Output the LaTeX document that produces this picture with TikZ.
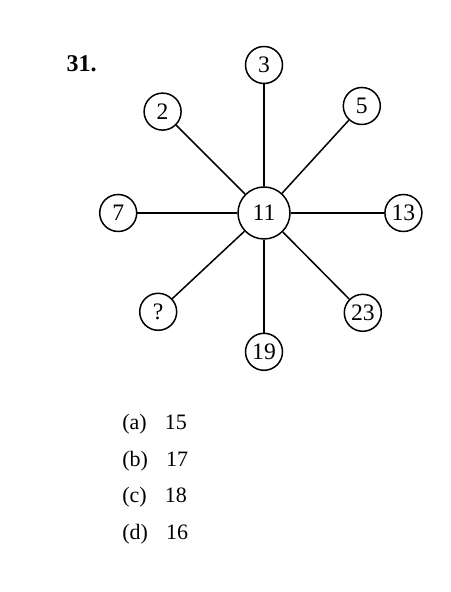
\documentclass[tikz,border=0pt]{standalone}
\usepackage{fontspec}
\setmainfont{Liberation Serif}
\usetikzlibrary{positioning}

\begin{document}
\begin{tikzpicture}[on grid,
  num/.style={circle,draw,line width=0.75pt,inner sep=0pt,minimum size=18.5pt,font=\fontsize{11.8}{13}\selectfont},
  hub/.style={num,minimum size=26pt},
  spoke/.style={-,line width=0.75pt},
  ans/.style={anchor=base west,inner sep=0pt,font=\fontsize{11}{13}\selectfont}]
  \useasboundingbox (-132pt,-189.5pt) rectangle (93pt,106.5pt);

  \node[hub]  (c11) at (0,0)                          {11};
  \node[num]  (n3)  [above=74pt of c11]               {3};
  \node[num]  (n2)  [above left=50.7pt and 50.7pt of c11]  {2};
  \node[num]  (n5)  [above right=53.5pt and 48.9pt of c11] {5};
  \node[num]  (n7)  [left=72.9pt of c11]              {7};
  \node[num]  (n13) [right=69.7pt of c11]             {13};
  \node[num]  (nq)  [below left=49.4pt and 52.9pt of c11]  {?};
  \node[num]  (n23) [below right=49.9pt and 49.4pt of c11] {23};
  \node[num]  (n19) [below=69.4pt of c11]             {19};

  \path (c11) edge [spoke] (n3)
        (c11) edge [spoke] (n2)
        (c11) edge [spoke] (n5)
        (c11) edge [spoke] (n7)
        (c11) edge [spoke] (n13)
        (c11) edge [spoke] (nq)
        (c11) edge [spoke] (n23)
        (c11) edge [spoke] (n19);

  % question number and options
  \node[font=\bfseries\fontsize{12}{13}\selectfont] (qno) at (-91.2pt,74.5pt) {31.};
  \node[ans] (ansa) at (-71pt,-108.2pt) {(a)\hspace{9pt}15};
  \node[ans] (ansb) at (-71pt,-126.5pt) {(b)\hspace{9pt}17};
  \node[ans] (ansc) at (-71pt,-144.8pt) {(c)\hspace{9pt}18};
  \node[ans] (ansd) at (-71pt,-163.2pt) {(d)\hspace{9pt}16};
\end{tikzpicture}
\end{document}
